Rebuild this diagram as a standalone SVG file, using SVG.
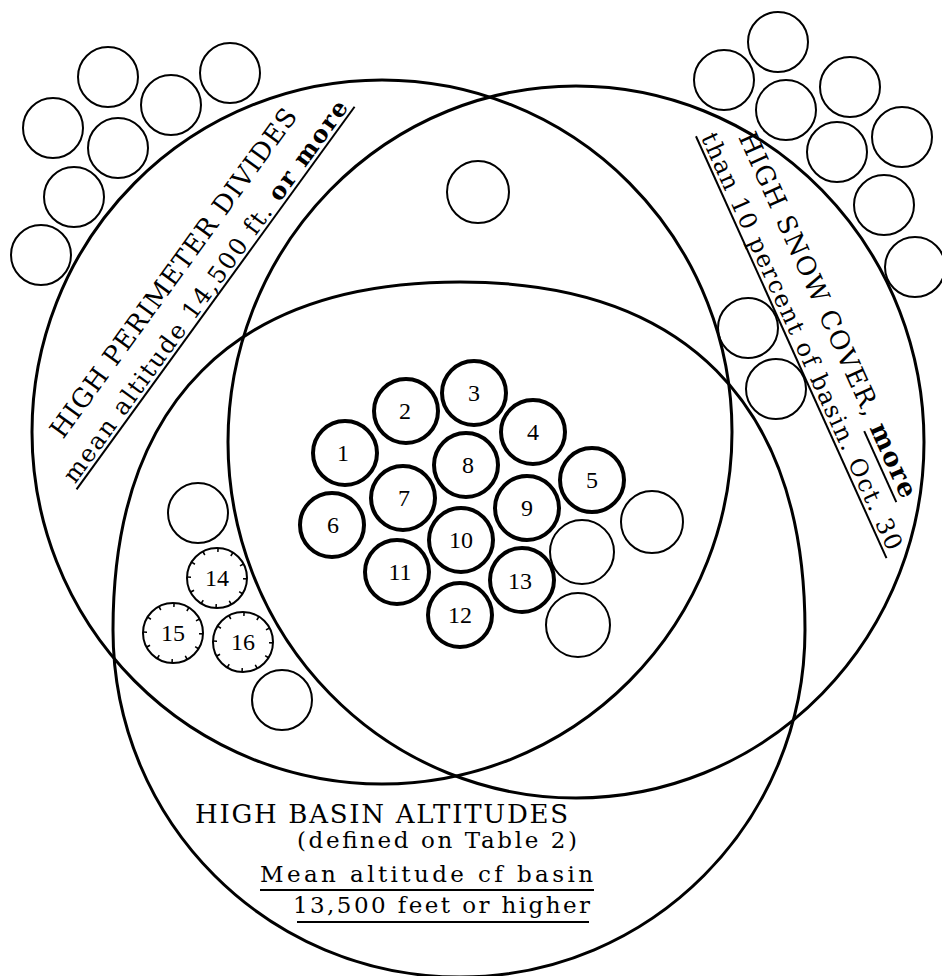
<svg xmlns="http://www.w3.org/2000/svg" width="942" height="976" viewBox="0 0 942 976">
<style>
.set{fill:none;stroke:#000;stroke-width:3}
.c{fill:none;stroke:#000;stroke-width:2}
.t{fill:none;stroke:#000;stroke-width:4}
.tick{fill:none;stroke:#000;stroke-width:4;stroke-dasharray:1.6 13.06}
.num{font-family:"Liberation Serif","Times New Roman",serif;font-size:24px;text-anchor:middle;fill:#000}
.lbl{font-family:"DejaVu Serif","Liberation Serif",serif;fill:#000}
.ul{stroke:#000;stroke-width:2}
</style>
<rect width="942" height="976" fill="#fff"/>
<g id="sets">
<g id="set-perimeter"><ellipse class="set" cx="382" cy="432" rx="350" ry="352"/></g>
<g id="set-snow"><ellipse class="set" cx="576" cy="442" rx="348" ry="356"/></g>
<g id="set-basin"><path class="set" d="M113 630 C113 402.5 234.5 282 460 282 C684 282 805 402.5 805 630 C805 822 650.5 977 460 977 C268 977 113 822 113 630 Z"/></g>
</g>
<g id="connectors"></g>
<g id="outside-perimeter">
<circle class="c" cx="108" cy="77" r="30"/>
<circle class="c" cx="230" cy="73" r="30"/>
<circle class="c" cx="171" cy="105" r="30"/>
<circle class="c" cx="53" cy="128" r="30"/>
<circle class="c" cx="118" cy="148" r="30"/>
<circle class="c" cx="74" cy="197" r="30"/>
<circle class="c" cx="41" cy="255" r="30"/>
</g>
<g id="outside-snow">
<circle class="c" cx="778" cy="42" r="30"/>
<circle class="c" cx="724" cy="80" r="30"/>
<circle class="c" cx="786" cy="110" r="30"/>
<circle class="c" cx="850" cy="87" r="30"/>
<circle class="c" cx="837" cy="152" r="30"/>
<circle class="c" cx="902" cy="137" r="30"/>
<circle class="c" cx="884" cy="205" r="30"/>
<circle class="c" cx="915" cy="267" r="30"/>
</g>
<g id="snow-only">
<circle class="c" cx="748" cy="328" r="30"/>
<circle class="c" cx="776" cy="389" r="30"/>
</g>
<g id="perimeter-snow"><circle class="c" cx="478" cy="192" r="31"/></g>
<g id="basin-snow">
<circle class="c" cx="652" cy="522" r="31"/>
<circle class="c" cx="582" cy="552" r="32"/>
<circle class="c" cx="578" cy="625" r="32"/>
</g>
<g id="basin-perimeter">
<circle class="c" cx="198" cy="513" r="30"/>
<circle class="c" cx="282" cy="700" r="30"/>
</g>
<g id="basin-14"><circle class="c" cx="217" cy="578" r="30"/><circle class="tick" cx="217" cy="578" r="28"/><text class="num" x="217" y="586">14</text></g>
<g id="basin-15"><circle class="c" cx="173" cy="633" r="30"/><circle class="tick" cx="173" cy="633" r="28"/><text class="num" x="173" y="641">15</text></g>
<g id="basin-16"><circle class="c" cx="243" cy="642" r="30"/><circle class="tick" cx="243" cy="642" r="28"/><text class="num" x="243" y="650">16</text></g>
<g id="basin-1"><circle class="t" cx="345" cy="453" r="32"/><text class="num" x="343" y="461">1</text></g>
<g id="basin-2"><circle class="t" cx="406" cy="411" r="32"/><text class="num" x="405" y="419">2</text></g>
<g id="basin-3"><circle class="t" cx="474" cy="393" r="32"/><text class="num" x="474" y="401">3</text></g>
<g id="basin-4"><circle class="t" cx="533" cy="432" r="32"/><text class="num" x="533" y="440">4</text></g>
<g id="basin-5"><circle class="t" cx="592" cy="480" r="32"/><text class="num" x="592" y="488">5</text></g>
<g id="basin-6"><circle class="t" cx="332" cy="525" r="32"/><text class="num" x="333" y="533">6</text></g>
<g id="basin-7"><circle class="t" cx="403" cy="498" r="32"/><text class="num" x="404" y="506">7</text></g>
<g id="basin-8"><circle class="t" cx="466" cy="465" r="32"/><text class="num" x="468" y="473">8</text></g>
<g id="basin-9"><circle class="t" cx="527" cy="508" r="32"/><text class="num" x="527" y="516">9</text></g>
<g id="basin-10"><circle class="t" cx="461" cy="540" r="32"/><text class="num" x="461" y="548">10</text></g>
<g id="basin-11"><circle class="t" cx="397" cy="572" r="32"/><text class="num" x="400" y="580">11</text></g>
<g id="basin-12"><circle class="t" cx="460" cy="615" r="32"/><text class="num" x="460" y="623">12</text></g>
<g id="basin-13"><circle class="t" cx="522" cy="580" r="32"/><text class="num" x="520" y="589">13</text></g>
<g id="label-perimeter" transform="translate(63,440) rotate(-54)">
<text class="lbl" x="0" y="0" font-size="26" textLength="400" lengthAdjust="spacing">HIGH PERIMETER DIVIDES</text>
<text class="lbl" x="-29" y="36" font-size="24" textLength="466" lengthAdjust="spacing">mean altitude 14,500 ft. <tspan font-weight="bold">or more</tspan></text>
<line class="ul" x1="-32" y1="40" x2="441" y2="40"/>
</g>
<g id="label-snow" transform="translate(738,137) rotate(65.7)">
<text class="lbl" x="0" y="0" font-size="26" textLength="398" lengthAdjust="spacing">HIGH SNOW COVER, <tspan font-weight="bold">more</tspan></text>
<line class="ul" x1="320" y1="6" x2="398" y2="6"/>
<text class="lbl" x="-15" y="34" font-size="24" textLength="455" lengthAdjust="spacing">than 10 percent of basin. Oct. 30</text>
<line class="ul" x1="-18" y1="38" x2="445" y2="38"/>
</g>
<g id="label-basin">
<text class="lbl" x="195" y="823" font-size="26" textLength="373" lengthAdjust="spacing">HIGH BASIN ALTITUDES</text>
<text class="lbl" x="297" y="848" font-size="23" textLength="280" lengthAdjust="spacing">(defined on Table 2)</text>
<text class="lbl" x="260" y="882" font-size="23" textLength="333" lengthAdjust="spacing">Mean altitude cf basin</text>
<line class="ul" x1="260" y1="890" x2="594" y2="890"/>
<text class="lbl" x="293" y="913" font-size="23" textLength="297" lengthAdjust="spacing">13,500 feet or higher</text>
<line class="ul" x1="297" y1="922" x2="589" y2="922"/>
</g>
</svg>
